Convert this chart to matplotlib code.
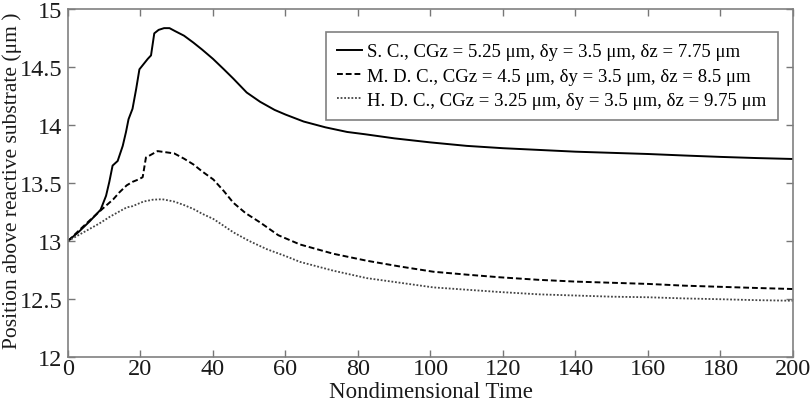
import matplotlib
matplotlib.use("Agg")
import matplotlib.pyplot as plt

# --- data ---
t_sc = [0, 3, 6, 9, 10.5, 11.4, 12.3, 13.7, 15.1, 16.0, 16.7, 17.8, 18.8, 19.7,
        22.0, 22.9, 23.8, 25.0, 26.5, 28, 29.5, 32, 34.6, 37, 40, 43, 45.6, 49.3,
        53, 57, 60, 65, 71, 77, 82, 90, 100, 110, 120, 130, 140, 150, 160, 170,
        180, 190, 200]
v_sc = [13.0, 13.08, 13.17, 13.27, 13.39, 13.51, 13.65, 13.69, 13.82, 13.94,
        14.05, 14.14, 14.31, 14.48, 14.57, 14.60, 14.79, 14.82, 14.835, 14.835,
        14.81, 14.77, 14.71, 14.65, 14.57, 14.48, 14.40, 14.28, 14.20, 14.13,
        14.09, 14.03, 13.98, 13.94, 13.92, 13.885, 13.85, 13.82, 13.80, 13.785,
        13.77, 13.76, 13.75, 13.737, 13.725, 13.715, 13.707]

t_md = [0, 3, 5.9, 9.6, 12.5, 14.2, 16.2, 17.8, 19.4, 20.6, 21.5, 22.4, 24.7,
        27, 29.3, 32, 34.6, 37, 40.1, 43, 45.6, 49, 53, 58, 64, 73.2, 82.4,
        91.6, 100.8, 110, 119.2, 130, 140, 150, 160, 170, 180, 190, 200]
v_md = [13.0, 13.09, 13.175, 13.28, 13.36, 13.42, 13.48, 13.51, 13.53, 13.55,
        13.72, 13.735, 13.775, 13.765, 13.755, 13.71, 13.66, 13.60, 13.53,
        13.43, 13.33, 13.24, 13.16, 13.05, 12.97, 12.89, 12.83, 12.78, 12.735,
        12.71, 12.687, 12.665, 12.65, 12.64, 12.63, 12.615, 12.605, 12.595,
        12.586]

t_hd = [0, 4, 8.6, 11.6, 16.2, 17.8, 20.8, 23.4, 26, 29.3, 32, 34.6, 37, 40.1,
        43, 45.6, 50, 54.8, 60, 64, 73.2, 82.4, 91.6, 100.8, 110, 119.2, 130,
        140, 150, 160, 170, 180, 190, 200]
v_hd = [13.0, 13.07, 13.15, 13.21, 13.29, 13.30, 13.34, 13.356, 13.36, 13.34,
        13.31, 13.276, 13.235, 13.19, 13.13, 13.075, 13.0, 12.93, 12.87, 12.82,
        12.744, 12.68, 12.64, 12.60, 12.58, 12.56, 12.54, 12.53, 12.52, 12.515,
        12.505, 12.498, 12.49, 12.485]

labels = ["S. C., CGz = 5.25 \u03bcm, \u03b4y = 3.5 \u03bcm, \u03b4z = 7.75 \u03bcm",
          "M. D. C., CGz = 4.5 \u03bcm, \u03b4y = 3.5 \u03bcm, \u03b4z = 8.5 \u03bcm",
          "H. D. C., CGz = 3.25 \u03bcm, \u03b4y = 3.5 \u03bcm, \u03b4z = 9.75 \u03bcm"]

xticks = [0, 20, 40, 60, 80, 100, 120, 140, 160, 180, 200]
yticks = [12, 12.5, 13, 13.5, 14, 14.5, 15]
ytick_labels = ["12", "12.5", "13", "13.5", "14", "14.5", "15"]

plt.rcParams['font.family'] = ['Liberation Serif', 'DejaVu Serif']

fig = plt.figure(figsize=(8.12, 4.10), dpi=100)
ax = fig.add_axes([68/812, 1-358/410, (793-68)/812, (358-10)/410])

ax.plot(t_sc, v_sc, color='black', lw=1.4, linestyle='-', label=labels[0])
ax.plot(t_md, v_md, color='black', lw=1.4, linestyle=(0, (3, 1.5)), label=labels[1])
ax.plot(t_hd, v_hd, color='#444444', lw=1.3, linestyle=(0, (1, 1)), label=labels[2])

ax.set_xlim(0, 200)
ax.set_ylim(12, 15)
ax.set_xticks(xticks)
ax.set_yticks(yticks)
ax.set_yticklabels(ytick_labels)
ax.tick_params(direction='in', top=True, right=True, length=5, width=1,
               color='#777777', labelsize=17.5, labelcolor='#1a1a1a')
ax.tick_params(axis='x', pad=1)
ax.tick_params(axis='y', pad=4)
for s in ax.spines.values():
    s.set_color('#808080')
    s.set_linewidth(1.2)

ax.set_xlabel("Nondimensional Time", fontsize=16.5, labelpad=1, color='#1a1a1a')
ax.set_ylabel("Position above reactive substrate (\u03bcm )", fontsize=15.5,
              color='#1a1a1a', va='center')
ax.yaxis.set_label_coords((12 - 68) / 725, (358 - 181) / 348)

leg = ax.legend(loc='upper right', bbox_to_anchor=((778-68)/725, (358-33)/348),
                fontsize=13.5, frameon=True, fancybox=False, framealpha=1,
                edgecolor='#808080', handlelength=1.35, handletextpad=0.27,
                labelspacing=0.38, borderpad=0.6, borderaxespad=0)
leg.get_frame().set_linewidth(1.2)

fig.savefig("out.png", dpi=100)
